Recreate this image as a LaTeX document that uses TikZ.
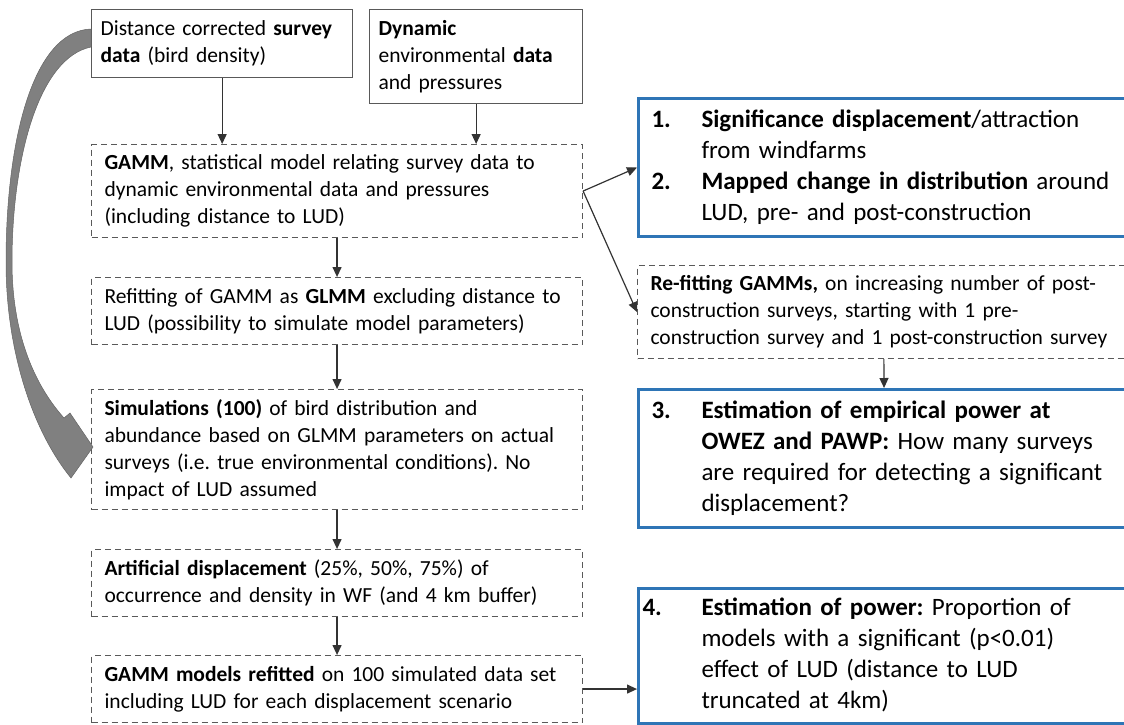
\documentclass[tikz,border=0pt]{standalone}
\usepackage{fontspec}
\setmainfont{Carlito}
\usepackage{tikz}
\usetikzlibrary{calc,positioning,arrows.meta}

\definecolor{resblue}{RGB}{46,117,182}
\definecolor{boxgray}{RGB}{89,89,89}
\definecolor{bendgray}{RGB}{128,128,128}
\definecolor{bendedge}{RGB}{100,100,100}

\tikzset{
  srcbox/.style={draw=boxgray,line width=1.3pt,anchor=north west,align=left,inner ysep=0pt,inner xsep=9pt,font=\fontsize{21.5}{27}\selectfont},
  stepbox/.style={draw=boxgray,line width=1.1pt,dash pattern=on 6pt off 4pt,anchor=north west,align=left,inner ysep=0pt,inner xsep=13pt,text width=465pt,font=\fontsize{21.5}{27}\selectfont},
  resbox/.style={draw=resblue,line width=3pt,anchor=north west,align=left,inner ysep=0pt,inner xsep=13pt,text width=466pt,minimum height=138pt,font=\fontsize{25}{31}\selectfont},
  flow/.style={draw=black!80,line width=1.2pt,-{Triangle[length=10pt,width=9pt]}},
}

\begin{document}
\frenchspacing
\begin{tikzpicture}[x=1pt,y=-1pt]
	\useasboundingbox (0,0) rectangle (1124,724);
	\clip (0,0) rectangle (1124,724);
	% input data
	\node(src) at (91,9) [srcbox,text width=243pt,minimum height=68pt] {Distance corrected \textbf{survey}\\\textbf{data} (bird density)};
	\node(env) at (369,9) [srcbox,text width=195pt,minimum height=94pt] {\textbf{Dynamic}\\environmental \textbf{data}\\and pressures};
	% left column
	\node(gamm) at (91,144) [stepbox,minimum height=93pt] {\textbf{GAMM}, statistical model relating survey data to\\dynamic environmental data and pressures\\(including distance to LUD)};
	\node(glmm) at (91,277) [stepbox,minimum height=67pt] {Refitting of GAMM as \textbf{GLMM} excluding distance to\\LUD (possibility to simulate model parameters)};
	\node(sims) at (91,389) [stepbox,minimum height=120pt] {\textbf{Simulations (100)} of bird distribution and\\abundance based on GLMM parameters on actual\\surveys (i.e. true environmental conditions). No\\impact of LUD assumed};
	\node(disp) at (91,549) [stepbox,minimum height=67pt] {\textbf{Artificial displacement} (25\%, 50\%, 75\%) of\\occurrence and density in WF (and 4 km buffer)};
	\node(gmr) at (91,655) [stepbox,minimum height=67pt] {\textbf{GAMM models refitted} on 100 simulated data set\\including LUD for each displacement scenario};
	% right column
	\node(res12) at (637,97) [resbox] {\begin{tabular}{@{}p{50pt}@{}l@{}}
		\textbf{1.} & \textbf{Significance displacement}/attraction\\
		 & from windfarms\\
		\textbf{2.} & \textbf{Mapped change in distribution} around\\
		 & LUD, pre- and post-construction
		\end{tabular}};
	\node(regam) at (637,265) [stepbox,text width=466pt,minimum height=93pt] {\textbf{Re-fitting GAMMs,} on increasing number of post-\\construction surveys, starting with 1 pre-\\construction survey and 1 post-construction survey};
	\node(res3) at (637,388) [resbox] {\begin{tabular}{@{}p{50pt}@{}l@{}}
		\textbf{3.} & \textbf{Estimation of empirical power at}\\
		 & \textbf{OWEZ and PAWP:} How many surveys\\
		 & are required for detecting a significant\\
		 & displacement?
		\end{tabular}};
	\node(res4) at (637,587) [resbox,inner xsep=4pt,text width=484pt,minimum height=135pt] {\begin{tabular}{@{}p{59pt}@{}l@{}}
		\textbf{4.} & \textbf{Estimation of power:} Proportion of\\
		 & models with a significant (p<0.01)\\
		 & effect of LUD (distance to LUD\\
		 & truncated at 4km)
		\end{tabular}};
	% connectors
	\draw[flow] (src.south) -- (src.south |- gamm.north);
	\draw[flow] (env.south) -- (env.south |- gamm.north);
	\draw[flow] (gamm) -- (glmm);
	\draw[flow] (glmm) -- (sims);
	\draw[flow] (sims) -- (disp);
	\draw[flow] (disp) -- (gmr);
	\draw[flow] (gamm.east) -- (res12.west);
	\draw[flow] (gamm.east) -- (regam.west);
	\draw[flow] (regam) -- (res3);
	\draw[flow] (gmr.east) -- (gmr.east -| res4.west);
	% bent arrow from the survey data to the simulations
	\filldraw[fill=bendgray,draw=bendedge,line width=0.5pt]
		(91,29) .. controls (33,31) and (6,140) .. (6,262)
		.. controls (6,350) and (32,430) .. (71,478)
		-- (93,447) -- (70,413) -- (64,418)
		.. controls (32,382) and (12,330) .. (12,262)
		.. controls (12,160) and (38,58) .. (91,47) -- cycle;
\end{tikzpicture}
\end{document}
